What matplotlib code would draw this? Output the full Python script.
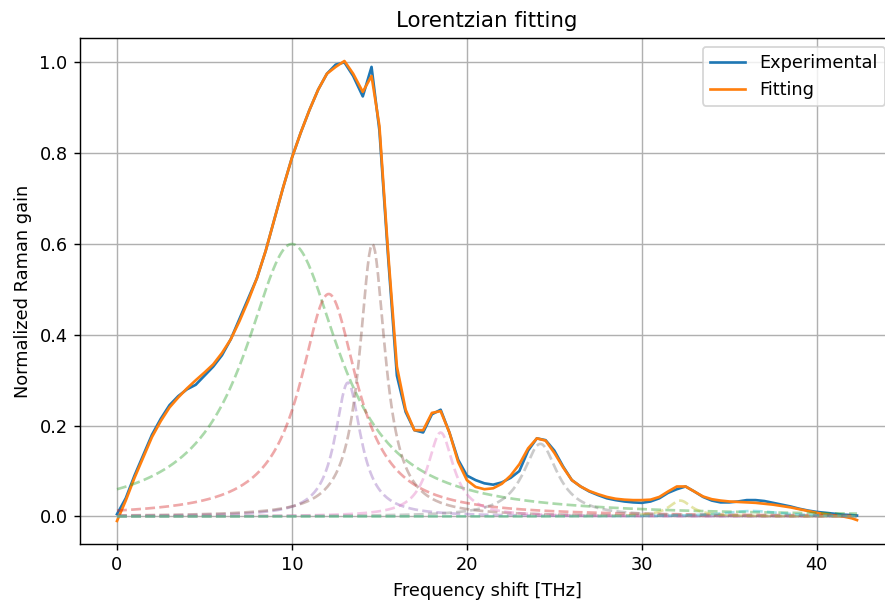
import numpy as np
import matplotlib.pyplot as plt

# frequency grid of the measured spectrum [THz]
freq = [0, 0.5, 1, 1.5, 2, 2.5, 3, 3.5, 4, 4.5, 5, 5.5, 6, 6.5, 7, 7.5, 8, 8.5,
        9, 9.5, 10, 10.5, 11, 11.5, 12, 12.5, 13, 13.5, 14.05, 14.55, 15.0, 15.5,
        16.0, 16.5, 17.0, 17.5, 18.0, 18.5, 19.0, 19.5, 20, 20.5, 21, 21.5, 22,
        22.5, 23, 23.5, 24, 24.5, 25, 25.5, 26, 26.5, 27, 27.5, 28, 28.5, 29,
        29.5, 30, 30.5, 31, 31.5, 32, 32.5, 33, 33.5, 34, 34.5, 35, 35.5, 36,
        36.5, 37, 37.5, 38, 38.5, 39, 39.5, 40, 40.5, 41, 41.5, 42, 42.3]

# normalized Raman gain (measured)
gain_exp = [0.005, 0.04, 0.09, 0.135, 0.18, 0.215, 0.245, 0.265, 0.28, 0.29,
            0.31, 0.33, 0.355, 0.39, 0.435, 0.48, 0.525, 0.585, 0.655, 0.725,
            0.79, 0.845, 0.895, 0.94, 0.975, 0.995, 1.0, 0.97, 0.925, 0.99,
            0.85, 0.57, 0.31, 0.23, 0.19, 0.185, 0.225, 0.235, 0.185, 0.125,
            0.09, 0.08, 0.073, 0.07, 0.075, 0.085, 0.1, 0.145, 0.172, 0.168,
            0.145, 0.11, 0.08, 0.066, 0.055, 0.047, 0.04, 0.036, 0.033, 0.031,
            0.03, 0.033, 0.04, 0.052, 0.06, 0.066, 0.055, 0.043, 0.035, 0.031,
            0.031, 0.033, 0.036, 0.036, 0.034, 0.03, 0.026, 0.022, 0.017, 0.013,
            0.01, 0.008, 0.006, 0.004, 0.003, 0.002]

# sum of the fitted Lorentzians on the same grid
gain_fit = [-0.01, 0.035, 0.085, 0.13, 0.175, 0.21, 0.24, 0.262, 0.282, 0.3,
            0.317, 0.335, 0.36, 0.39, 0.43, 0.475, 0.525, 0.585, 0.655, 0.725,
            0.79, 0.845, 0.895, 0.94, 0.975, 0.99, 1.003, 0.975, 0.935, 0.97,
            0.86, 0.58, 0.33, 0.235, 0.19, 0.19, 0.228, 0.232, 0.185, 0.12,
            0.08, 0.065, 0.06, 0.062, 0.072, 0.09, 0.115, 0.15, 0.172, 0.167,
            0.14, 0.108, 0.08, 0.066, 0.056, 0.049, 0.043, 0.039, 0.037, 0.036,
            0.036, 0.037, 0.043, 0.055, 0.066, 0.066, 0.055, 0.044, 0.038, 0.035,
            0.033, 0.032, 0.031, 0.03, 0.028, 0.026, 0.023, 0.02, 0.016, 0.012,
            0.008, 0.005, 0.002, 0.0, -0.004, -0.008]

# Lorentzian components: center [THz], amplitude, half width [THz]
centers = [10.0, 12.1, 13.2, 14.6, 18.5, 24.2, 32.2, 36.3]
amplitudes = [0.60, 0.49, 0.295, 0.60, 0.185, 0.16, 0.035, 0.012]
widths = [3.33, 2.0, 0.9, 0.9, 0.9, 1.2, 0.8, 2.0]


def lorentz(x, x0, a, g):
    return a / (1 + ((x - x0) / g) ** 2)


fig = plt.figure(figsize=(885 / 128, 607 / 128), dpi=128)
ax = fig.add_axes([80 / 885, 63 / 607, 814 / 885, 506 / 607])

ax.plot(freq, gain_exp, label='Experimental')
ax.plot(freq, gain_fit, label='Fitting')

xx = np.linspace(freq[0], freq[-1], 500)
for x0, a, g in zip(centers, amplitudes, widths):
    ax.plot(xx, lorentz(xx, x0, a, g), '--', alpha=0.4)

ax.set_title('Lorentzian fitting')
ax.set_xlabel('Frequency shift [THz]')
ax.set_ylabel('Normalized Raman gain')
ax.grid(True)
ax.legend(loc='upper right')

fig.savefig('out.png', dpi=128)
